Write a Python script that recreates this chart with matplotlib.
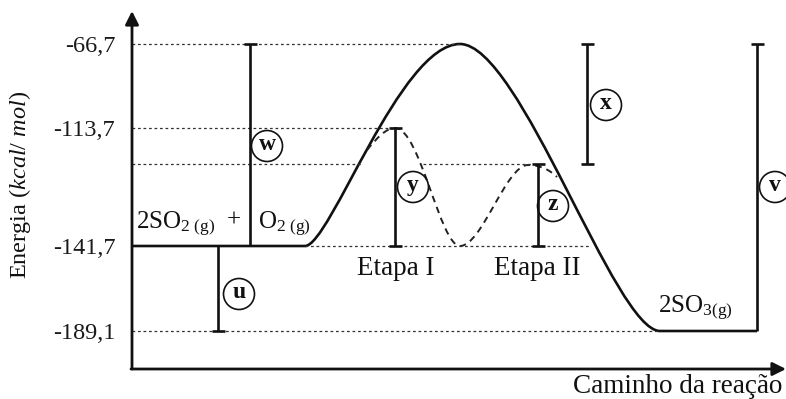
import matplotlib
matplotlib.use('Agg')
import matplotlib.pyplot as plt
from matplotlib.path import Path
from matplotlib.patches import PathPatch, Circle

plt.rcParams['font.family'] = ['Liberation Serif', 'DejaVu Serif']
plt.rcParams['mathtext.fontset'] = 'custom'
plt.rcParams['mathtext.rm'] = 'Liberation Serif'
plt.rcParams['mathtext.it'] = 'Liberation Serif:italic'
plt.rcParams['mathtext.bf'] = 'Liberation Serif:bold'

# ---------------- data ----------------
tick_labels = ['-66,7', '-113,7', '-141,7', '-189,1']
energies = [-66.7, -113.7, -141.7, -189.1]
# schematic heights (diagram is not to scale)
lvl_top, lvl_ts1, lvl_ts2, lvl_react, lvl_prod = 325, 241, 205, 123, 38
tick_heights = [lvl_top, lvl_ts1, lvl_react, lvl_prod]

# reaction-coordinate landmarks
x_axis0, x_axis1 = 132, 785
x_react_end, x_peak, x_prod_start, x_prod_end = 305, 460, 660, 757
x_ts1, x_min, x_ts2 = 395, 460, 528

# bars: name, x, bottom, top, caps, circled-label position
bar_names = ['w', 'u', 'y', 'z', 'x', 'v']
bar_x = [250, 218, 395, 538, 587, 757]
bar_lo = [lvl_react, lvl_prod, lvl_react, lvl_react, lvl_ts2, lvl_prod]
bar_hi = [lvl_top, lvl_react, lvl_ts1, lvl_ts2, lvl_top, lvl_top]
cap_lo = [False, True, True, True, True, False]
cap_hi = [True, False, True, True, True, True]
lab_x = [267, 239, 413, 553, 606, 775]
lab_y = [223, 75, 182, 163, 264, 182]

fig = plt.figure(figsize=(7.86, 3.99), dpi=100)
ax = fig.add_axes([132 / 786, 30 / 399, 653 / 786, 354 / 399])
ax.set_xlim(x_axis0, x_axis1)
ax.set_ylim(0, 354)
for s in ax.spines.values():
    s.set_visible(False)
ax.set_xticks([])
ax.set_yticks(tick_heights, tick_labels, fontsize=17.5)
ax.tick_params(axis='y', length=0, pad=12, labelcolor='#1a1a1a')

# axes with arrows
arrow = dict(arrowstyle='-|>', lw=2.0, color='#111111', mutation_scale=20,
             shrinkA=0, shrinkB=0)
ax.annotate('', xy=(x_axis0, 358), xytext=(x_axis0, 0), arrowprops=arrow,
            annotation_clip=False)
ax.annotate('', xy=(x_axis1 + 1, 0), xytext=(x_axis0 - 1, 0), arrowprops=arrow,
            annotation_clip=False)

# dotted guide lines
dot = dict(color='#333333', lw=0.9, ls=(0, (2.2, 2.2)))
ax.plot([x_axis0, x_peak], [lvl_top] * 2, **dot)
ax.plot([x_axis0, x_ts1 - 4], [lvl_ts1] * 2, **dot)
ax.plot([x_axis0, 363], [lvl_ts2] * 2, **dot)
ax.plot([423, 533], [lvl_ts2] * 2, **dot)
ax.plot([x_react_end, 590], [lvl_react] * 2, **dot)
ax.plot([x_axis0, x_prod_start], [lvl_prod] * 2, **dot)

# main (uncatalysed) curve
verts = [(x_axis0, lvl_react), (x_react_end, lvl_react),
         (330, lvl_react), (400, lvl_top), (x_peak, lvl_top),
         (520, lvl_top), (615, lvl_prod), (x_prod_start, lvl_prod),
         (x_prod_end, lvl_prod)]
codes = [Path.MOVETO, Path.LINETO,
         Path.CURVE4, Path.CURVE4, Path.CURVE4,
         Path.CURVE4, Path.CURVE4, Path.CURVE4,
         Path.LINETO]
ax.add_patch(PathPatch(Path(verts, codes), fill=False, lw=1.9, ec='#111111',
                       capstyle='butt', joinstyle='round'))

# catalysed two-step curve (dashed)
dverts = [(367, 219), (377, 231), (386, lvl_ts1), (x_ts1, lvl_ts1),
          (420, lvl_ts1), (440, lvl_react), (x_min, lvl_react),
          (482, lvl_react), (506, lvl_ts2 - 1), (x_ts2, lvl_ts2 - 1),
          (540, lvl_ts2 - 1), (550, 199), (557, 192)]
dcodes = [Path.MOVETO] + [Path.CURVE4] * 12
ax.add_patch(PathPatch(Path(dverts, dcodes), fill=False, lw=1.4, ec='#222222',
                       ls=(0, (3.4, 2.6))))

# bars with caps and circled labels
cap_w = 6.5
for name, bx, lo, hi, clo, chi, lx, ly in zip(bar_names, bar_x, bar_lo, bar_hi,
                                               cap_lo, cap_hi, lab_x, lab_y):
    ax.plot([bx, bx], [lo, hi], color='#111111', lw=1.9, solid_capstyle='butt')
    if clo:
        ax.plot([bx - cap_w, bx + cap_w], [lo, lo], color='#111111', lw=1.9,
                solid_capstyle='butt')
    if chi:
        ax.plot([bx - cap_w, bx + cap_w], [hi, hi], color='#111111', lw=1.9,
                solid_capstyle='butt')
    ax.add_patch(Circle((lx, ly), 15.5, fill=False, ec='#111111', lw=1.2,
                        clip_on=False))
    ax.text(lx, ly + 1.5, name, ha='center', va='center', fontsize=17,
            fontweight='bold', color='#111111', clip_on=False)

# texts
txt = dict(fontsize=18, color='#111111', clip_on=False)
big = dict(fontsize=19.5, color='#111111', clip_on=False)
ax.text(136, 141, r'2SO$_{2\ \mathregular{(g)}}$', ha='left', va='baseline', **txt)
ax.text(234, 142, '+', ha='center', va='baseline', **txt)
ax.text(258, 141, r'O$_{2\ \mathregular{(g)}}$', ha='left', va='baseline', **txt)
ax.text(396, 94, 'Etapa I', ha='center', va='baseline', **big)
ax.text(537, 94, 'Etapa II', ha='center', va='baseline', **big)
ax.text(658, 57, r'2SO$_{3\mathregular{(g)}}$', ha='left', va='baseline', **txt)
ax.text(782, -24, 'Caminho da reação', ha='right', va='baseline', **big)
ax.text(20, 184, r'Energia ($\mathit{kcal}$/ $\mathit{mol}$)',
        rotation=90, ha='center', va='center', fontsize=17.5, color='#111111',
        clip_on=False)

fig.savefig('out.png', dpi=100)
